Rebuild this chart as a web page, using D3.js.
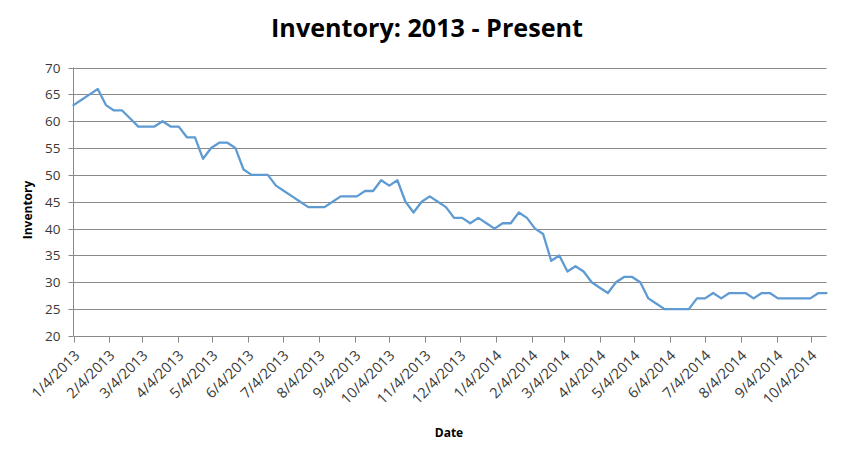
<!DOCTYPE html>
<html><head><meta charset="utf-8">
<script src="https://cdn.jsdelivr.net/npm/d3@7"></script>
<style>body{margin:0;background:#fff}svg{display:block}text{font-family:"Open Sans",sans-serif}</style>
</head><body><svg id="c" width="855" height="457"></svg>
<script>
const titleText = "Inventory: 2013 - Present";
const xTitle = "Date";
const yTitle = "Inventory";
const dates = [
"1/4/2013","1/11/2013","1/18/2013","1/25/2013","2/1/2013","2/8/2013","2/15/2013","2/22/2013",
"3/1/2013","3/8/2013","3/15/2013","3/22/2013","3/29/2013","4/5/2013","4/12/2013","4/19/2013","4/26/2013",
"5/3/2013","5/10/2013","5/17/2013","5/24/2013","5/31/2013","6/7/2013","6/14/2013","6/21/2013","6/28/2013",
"7/5/2013","7/12/2013","7/19/2013","7/26/2013","8/2/2013","8/9/2013","8/16/2013","8/23/2013","8/30/2013",
"9/6/2013","9/13/2013","9/20/2013","9/27/2013","10/4/2013","10/11/2013","10/18/2013","10/25/2013",
"11/1/2013","11/8/2013","11/15/2013","11/22/2013","11/29/2013","12/6/2013","12/13/2013","12/20/2013","12/27/2013",
"1/3/2014","1/10/2014","1/17/2014","1/24/2014","1/31/2014","2/7/2014","2/14/2014","2/21/2014","2/28/2014",
"3/7/2014","3/14/2014","3/21/2014","3/28/2014","4/4/2014","4/11/2014","4/18/2014","4/25/2014",
"5/2/2014","5/9/2014","5/16/2014","5/23/2014","5/30/2014","6/6/2014","6/13/2014","6/20/2014","6/27/2014",
"7/4/2014","7/11/2014","7/18/2014","7/25/2014","8/1/2014","8/8/2014","8/15/2014","8/22/2014","8/29/2014",
"9/5/2014","9/12/2014","9/19/2014","9/26/2014","10/3/2014","10/10/2014","10/17/2014"];
const inventory = [63,64,65,66,63,62,62,60.5,59,59,59,60,59,59,57,57,53,55,56,56,55,51,50,50,50,48,47,46,45,44,
44,44,45,46,46,46,47,47,49,48,49,45,43,45,46,45,44,42,42,41,42,41,40,41,41,43,42,40,39,34,35,32,33,32,30,29,28,
30,31,31,30,27,26,25,25,25,25,27,27,28,27,28,28,28,27,28,28,27,27,27,27,27,28,28];
const xTickLabels = ["1/4/2013","2/4/2013","3/4/2013","4/4/2013","5/4/2013","6/4/2013","7/4/2013","8/4/2013",
"9/4/2013","10/4/2013","11/4/2013","12/4/2013","1/4/2014","2/4/2014","3/4/2014","4/4/2014","5/4/2014",
"6/4/2014","7/4/2014","8/4/2014","9/4/2014","10/4/2014"];
const yTicks = [20,25,30,35,40,45,50,55,60,65,70];

const parse = d3.timeParse("%m/%d/%Y");
const data = dates.map((d,i)=>({date:parse(d), value:inventory[i]}));
const tickDates = xTickLabels.map(parse);

const svg = d3.select("#c");
const L = 73.5, R = 826.5, T = 67.5, B = 336;
const x = d3.scaleTime().domain([data[0].date, data[data.length-1].date]).range([L, R]);
const y = d3.scaleLinear().domain([20,70]).range([B, T]);
const gridCol = "#8a8a8a";
const snap = v => Math.round(v) + 0.5;

// gridlines
svg.append("g").selectAll("line").data(yTicks.filter(v=>v>20)).join("line")
  .attr("x1", L).attr("x2", R)
  .attr("y1", d=>snap(y(d))).attr("y2", d=>snap(y(d)))
  .attr("stroke", gridCol).attr("stroke-width", 1);

// y axis
const gy = svg.append("g").attr("transform", `translate(${L},0)`)
  .call(d3.axisLeft(y).tickValues(yTicks).tickSize(5).tickSizeOuter(0).tickPadding(8)
    .tickFormat(d3.format("d")).offset(0));
gy.selectAll(".tick").attr("transform", d=>`translate(0,${snap(y(d))})`);
gy.select(".domain").attr("stroke", gridCol).attr("d", `M0,${T}V${B}`);
gy.selectAll(".tick line").attr("stroke", gridCol);
gy.selectAll(".tick text").attr("fill", "#383838").style("font-size", "13.5px").attr("dy","0.36em");

// x axis
const gx = svg.append("g").attr("transform", `translate(0,${snap(B)})`)
  .call(d3.axisBottom(x).tickValues(tickDates).tickSize(6).tickSizeOuter(0).offset(0)
    .tickFormat((d,i)=>xTickLabels[i]));
gx.selectAll(".tick").attr("transform", d=>`translate(${snap(x(d))},0)`);
gx.select(".domain").attr("stroke", gridCol).attr("d", `M${L},0H${R}`);
gx.selectAll(".tick line").attr("stroke", gridCol);
gx.selectAll(".tick text").attr("fill", "#383838").style("font-size", "14.5px")
  .attr("text-anchor","end").attr("x",0).attr("y",0).attr("dy",0)
  .attr("transform","translate(6,20) rotate(-45)");

// line
svg.append("path").datum(data)
  .attr("fill","none").attr("stroke","#5f9bd3").attr("stroke-width",2.3)
  .attr("stroke-linejoin","round").attr("stroke-linecap","round")
  .attr("d", d3.line().x(d=>x(d.date)).y(d=>y(d.value)));

// title
const title = svg.append("text").attr("x", 427).attr("y", 37).attr("text-anchor","middle")
  .attr("font-weight","bold").attr("fill","#000").style("font-size","22px").text(titleText);
const tw = title.node().getComputedTextLength();
title.style("font-size", (22*312/tw).toFixed(2)+"px");

svg.append("text").attr("transform","translate(31.5,210) rotate(-90)").attr("text-anchor","middle")
  .attr("font-weight","bold").attr("fill","#000").style("font-size","12px").text(yTitle);
svg.append("text").attr("x",449).attr("y",437).attr("text-anchor","middle")
  .attr("font-weight","bold").attr("fill","#000").style("font-size","12px").text(xTitle);
</script></body></html>
